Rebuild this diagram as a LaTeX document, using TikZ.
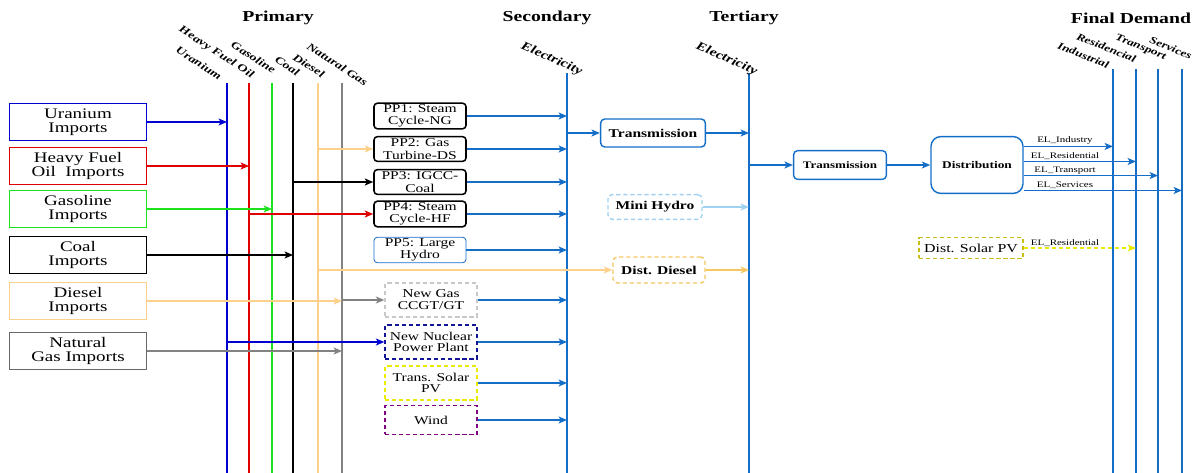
\documentclass[tikz,border=0pt]{standalone}
\usepackage{fontspec}
\setmainfont{Liberation Serif}[FakeStretch=1.3]
\usetikzlibrary{arrows.meta}
\definecolor{uran}{RGB}{0,0,210}
\definecolor{hfo}{RGB}{225,0,0}
\definecolor{gasl}{RGB}{30,225,30}
\definecolor{dies}{RGB}{253,208,140}
\definecolor{ngas}{RGB}{130,130,130}
\definecolor{elec}{RGB}{20,110,200}
\definecolor{mhyd}{RGB}{160,210,240}
\definecolor{nucl}{RGB}{20,20,150}
\definecolor{solr}{RGB}{235,235,0}
\definecolor{dsol}{RGB}{200,190,20}
\definecolor{wind}{RGB}{130,0,130}
\definecolor{newg}{RGB}{200,200,200}
\definecolor{ddie}{RGB}{245,200,100}
\newcommand{\fsz}[2]{\fontsize{#1}{#2}\selectfont}

\begin{document}
\begin{tikzpicture}[x=0.025cm,y=-0.025cm,>={Stealth[length=6pt,width=5pt,inset=1.5pt]},
	imp/.style={draw,line width=1.1pt,minimum width=3.42cm,minimum height=0.92cm,inner sep=1pt,align=center,font=\fsz{10.4}{10.2}},
	pp/.style={draw,line width=1.1pt,rounded corners=2.5pt,minimum width=2.3cm,minimum height=0.62cm,inner sep=1pt,align=center,font=\fsz{8.5}{8.8}},
	newpp/.style={draw,line width=1pt,dash pattern=on 3pt off 2pt,minimum width=2.3cm,minimum height=0.84cm,inner sep=1pt,align=center,font=\fsz{8.5}{8.4}},
	netbox/.style={draw=elec,line width=1pt,rounded corners=3pt,inner sep=1pt,align=center,font=\bfseries\fsz{8.5}{9}},
	hdr/.style={font=\bfseries\fsz{10.8}{12}},
	rot/.style={anchor=east,inner sep=1pt,font=\bfseries\itshape\fsz{7.5}{8}},
	bus/.style={line width=1.5pt},
	flow/.style={->,line width=0.9pt},
	el/.style={above,inner sep=1pt,font=\fsz{6}{7}}
	]
	\useasboundingbox (0,0) rectangle (1193,473);

	% stage headers
	\node[hdr] (hprim) at (278,18) {Primary};
	\node[hdr] (hsec) at (547,18) {Secondary};
	\node[hdr] (hter) at (744,18) {Tertiary};
	\node[hdr] (hfin) at (1131,18) {Final Demand};

	% primary carriers
	\foreach \n/\x/\c in {U/227/uran,H/249/hfo,G/272/gasl,C/293/black,D/318/dies,N/342/ngas}{
		\coordinate (\n top) at (\x,83);
		\coordinate (\n bot) at (\x,473);
		\draw[bus,\c] (\n top) -- (\n bot);
	}
	\node[rot,rotate=-33] (lU) at (222,78) {Uranium};
	\node[rot,rotate=-33] (lH) at (254,77) {Heavy Fuel Oil};
	\node[rot,rotate=-33] (lG) at (276,72) {Gasoline};
	\node[rot,rotate=-33] (lC) at (300,74) {Coal};
	\node[rot,rotate=-33] (lD) at (325,76) {Diesel};
	\node[rot,rotate=-33] (lN) at (368,84) {Natural Gas};

	% imports
	\node[imp,draw=uran] (iU) at (78,122) {Uranium\\Imports};
	\node[imp,draw=hfo] (iH) at (78,166) {Heavy Fuel\\Oil~ Imports};
	\node[imp,draw=gasl] (iG) at (78,209) {Gasoline\\Imports};
	\node[imp] (iC) at (78,255) {Coal\\Imports};
	\node[imp,draw=dies] (iD) at (78,301) {Diesel\\Imports};
	\node[imp,draw=ngas!80!black] (iN) at (78,351) {Natural\\Gas Imports};
	\draw[flow,uran] (iU) -- (iU -| Utop);
	\draw[flow,hfo] (iH) -- (iH -| Htop);
	\draw[flow,gasl] (iG) -- (iG -| Gtop);
	\draw[flow] (iC) -- (iC -| Ctop);
	\draw[flow,dies] (iD) -- (iD -| Ntop);
	\draw[flow,ngas] (iN) -- (iN -| Ntop);

	% secondary / tertiary electricity
	\coordinate (Stop) at (567,73);
	\coordinate (Sbot) at (567,473);
	\coordinate (Ttop) at (749,73);
	\coordinate (Tbot) at (749,473);
	\draw[bus,elec] (Stop) -- (Sbot);
	\draw[bus,elec] (Ttop) -- (Tbot);
	\node[rot,rotate=-24,font=\bfseries\itshape\fsz{8.5}{9}] (lS) at (583,73) {Electricity};
	\node[rot,rotate=-24,font=\bfseries\itshape\fsz{8.5}{9}] (lT) at (758,73) {Electricity};

	% power plants
	\node[pp] (pp1) at (420,116) {PP1: Steam\\Cycle-NG};
	\node[pp] (pp2) at (420,149) {PP2: Gas\\Turbine-DS};
	\node[pp] (pp3) at (420,182) {PP3: IGCC-\\Coal};
	\node[pp] (pp4) at (420,214) {PP4: Steam\\Cycle-HF};
	\node[pp,draw=elec,line width=0.6pt] (pp5) at (420,250) {PP5: Large\\Hydro};
	\node[newpp,draw=newg] (ng) at (431,300) {New Gas\\CCGT/GT};
	\node[newpp,draw=nucl] (nuc) at (431,342) {New Nuclear\\Power Plant};
	\node[newpp,draw=solr] (sol) at (431,383) {Trans. Solar\\PV};
	\node[newpp,draw=wind,minimum height=0.72cm] (wnd) at (431,420) {Wind};
	\draw[flow,dies] (pp2 -| Dtop) -- (pp2);
	\draw[flow] (pp3 -| Ctop) -- (pp3);
	\draw[flow,hfo] (pp4 -| Htop) -- (pp4);
	\draw[flow,ngas] (ng -| Ntop) -- (ng);
	\draw[flow,uran] (nuc -| Utop) -- (nuc);
	\foreach \b in {pp1,pp2,pp3,pp4,pp5,ng,nuc,sol,wnd}
		\draw[flow,elec] (\b) -- (\b -| Stop);

	% transmission
	\node[netbox,minimum width=2.62cm,minimum height=0.7cm] (tr1) at (653,133) {Transmission};
	\node[netbox,draw=mhyd,dash pattern=on 3pt off 2pt,minimum width=2.35cm,minimum height=0.62cm] (mh) at (655,207) {Mini Hydro};
	\node[netbox,draw=ddie,dash pattern=on 3pt off 2pt,minimum width=2.3cm,minimum height=0.65cm] (dd) at (659,270) {Dist. Diesel};
	\draw[flow,elec] (tr1 -| Stop) -- (tr1);
	\draw[flow,elec] (tr1) -- (tr1 -| Ttop);
	\draw[flow,mhyd] (mh) -- (mh -| Ttop);
	\draw[flow,dies] (dd -| Dtop) -- (dd);
	\draw[flow,ddie] (dd) -- (dd -| Ttop);

	% distribution
	\node[netbox,font=\bfseries\fsz{7.1}{8},minimum width=2.32cm,minimum height=0.72cm] (tr2) at (840,165) {Transmission};
	\node[netbox,rounded corners=7pt,font=\bfseries\fsz{7.3}{8},minimum width=2.3cm,minimum height=1.42cm] (dist) at (977,165) {Distribution};
	\draw[flow,elec] (tr2 -| Ttop) -- (tr2);
	\draw[flow,elec] (tr2) -- (dist);

	% final demand
	\foreach \n/\x in {I/1113,R/1136,T/1158,V/1182}{
		\coordinate (\n top) at (\x,69);
		\coordinate (\n bot) at (\x,473);
		\draw[bus,elec] (\n top) -- (\n bot);
	}
	\node[rot,rotate=-22,font=\bfseries\itshape\fsz{7.2}{8}] (lI) at (1110,66) {Industrial};
	\node[rot,rotate=-22,font=\bfseries\itshape\fsz{7.2}{8}] (lR) at (1137,60) {Residencial};
	\node[rot,rotate=-22,font=\bfseries\itshape\fsz{7.2}{8}] (lT) at (1167,58) {Transport};
	\node[rot,rotate=-22,font=\bfseries\itshape\fsz{7.2}{8}] (lV) at (1193,57) {Services};
	\coordinate (lbx) at (1065,0);
	\foreach \n/\s/\t in {I/13.2/Industry,R/2.5/Residential,T/-7.5/Transport,V/-18.1/Services}{
		\coordinate (e\n) at ([yshift=\s pt]dist.east);
		\draw[flow,elec] (e\n) -- (e\n -| \n top);
		\node[el] (el\n) at (e\n -| lbx) {EL\_\t};
	}

	% distributed solar
	\node[draw=dsol,line width=1pt,dash pattern=on 3pt off 2pt,minimum width=2.6cm,minimum height=0.52cm,inner sep=1pt,font=\fsz{8.7}{9}] (dsp) at (971,248) {Dist. Solar PV};
	\draw[flow,solr,dash pattern=on 3pt off 2pt] (dsp) -- (dsp -| Rtop);
	\node[el] (elS) at (dsp -| lbx) {EL\_Residential};
\end{tikzpicture}
\end{document}
